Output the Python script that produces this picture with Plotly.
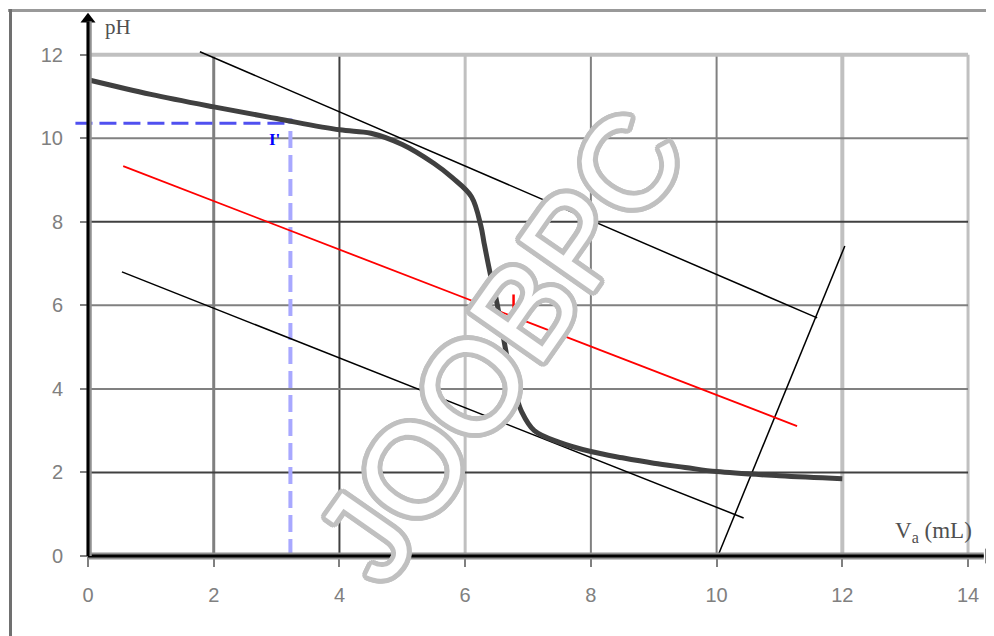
import math
import plotly.graph_objects as go

# ---------------- data ----------------
vol = [0, 1, 2, 3, 4, 4.5, 5, 5.5, 5.8, 6.1, 6.25, 6.3, 6.4, 6.5, 6.6, 6.7, 6.8, 6.9,
       7.1, 7.5, 8, 8.5, 9, 9.5, 10, 11, 12]
ph = [11.4, 11.05, 10.75, 10.47, 10.2, 10.12, 9.85, 9.4, 9.05, 8.6, 7.9, 7.5, 6.75, 6.1,
      5.3, 4.5, 3.9, 3.45, 3.0, 2.72, 2.5, 2.35, 2.22, 2.12, 2.02, 1.92, 1.85]

tan_top_x = [1.78, 11.6]
tan_top_y = [12.07, 5.70]
tan_bot_x = [0.54, 10.43]
tan_bot_y = [6.80, 0.91]
mid_x = [0.56, 11.28]
mid_y = [9.33, 3.11]
steep_x = [10.02, 12.04]
steep_y = [0.0, 7.42]

eq_x = 6.77            # red mark (equivalence point)
eq_y = [5.78, 6.26]

half_v = 3.22          # blue dashed construction
half_ph = 10.36
blue_start_x = -0.2

x_ticks = [0, 2, 4, 6, 8, 10, 12, 14]
y_ticks = [0, 2, 4, 6, 8, 10, 12]
x_labels = ["0", "2", "4", "6", "8", "10", "12", "14"]
y_labels = ["0", "2", "4", "6", "8", "10", "12"]

# ---------------- styles / layout geometry ----------------
# page has an 8px body margin, so the figure is 986x628 and offset by 8px
W, H = 986, 628
PX0, PXU = 80, 62.86     # figure pixel of x=0, pixels per mL
PY0, PYU = 548, 41.78    # figure pixel of pH=0, pixels per pH unit
X_LO, X_HI = -PX0 / PXU, (W - PX0) / PXU
Y_LO, Y_HI = -(H - PY0) / PYU, PY0 / PYU

vgrid_style = [("#808080", 3), ("#404040", 2), ("#c0c0c0", 3), ("#808080", 2),
               ("#808080", 2), ("#c0c0c0", 4), ("#c0c0c0", 3)]
hgrid_style = [("#c0c0c0", 4), ("#808080", 2), ("#404040", 2), ("#808080", 2),
               ("#808080", 2), ("#404040", 2)]

fig = go.Figure()

shapes = []
for gx, (c, w) in zip(x_ticks[1:], vgrid_style):
    shapes.append(dict(type="line", xref="x", yref="y", x0=gx, x1=gx, y0=0, y1=y_ticks[-1],
                       line=dict(color=c, width=w), layer="below"))
for gy, (c, w) in zip(y_ticks[::-1][:-1], hgrid_style):
    shapes.append(dict(type="line", xref="x", yref="y", x0=0, x1=x_ticks[-1], y0=gy, y1=gy,
                       line=dict(color=c, width=w), layer="below"))

# outer frame (top and left)
shapes.append(dict(type="line", xref="paper", yref="paper", x0=0, x1=1, y0=1 - 2.5 / H,
                   y1=1 - 2.5 / H, line=dict(color="#999999", width=3)))
shapes.append(dict(type="line", xref="paper", yref="paper", x0=2.5 / W, x1=2.5 / W, y0=0,
                   y1=1 - 1 / H, line=dict(color="#707070", width=3)))

# axes lines
shapes.append(dict(type="line", xref="x", yref="y", x0=0, x1=14.25, y0=0, y1=0,
                   line=dict(color="#909090", width=7)))
shapes.append(dict(type="line", xref="x", yref="y", x0=0, x1=14.25, y0=0, y1=0,
                   line=dict(color="black", width=3)))
shapes.append(dict(type="line", xref="x", yref="y", x0=0.02, x1=0.02, y0=0, y1=12.8,
                   line=dict(color="#909090", width=5)))
shapes.append(dict(type="line", xref="x", yref="y", x0=0, x1=0, y0=0, y1=12.8,
                   line=dict(color="black", width=3)))
fig.update_layout(shapes=shapes)

# arrow heads
fig.add_trace(go.Scatter(x=[0], y=[12.85], mode="markers",
                         marker=dict(symbol="triangle-up", size=13, color="black"),
                         hoverinfo="skip", showlegend=False))
fig.add_trace(go.Scatter(x=[14.33], y=[0], mode="markers",
                         marker=dict(symbol="triangle-right", size=13, color="black"),
                         hoverinfo="skip", showlegend=False))

# blue dashed construction lines
fig.add_trace(go.Scatter(x=[half_v, half_v], y=[0, half_ph + 0.12], mode="lines",
                         line=dict(color="#a8a8ff", width=4, dash="17px,7px"),
                         hoverinfo="skip", showlegend=False))
fig.add_trace(go.Scatter(x=[blue_start_x, half_v], y=[half_ph, half_ph], mode="lines",
                         line=dict(color="#5050f0", width=3, dash="17px,7px"),
                         hoverinfo="skip", showlegend=False))

# tangents and mid-parallel
fig.add_trace(go.Scatter(x=tan_top_x, y=tan_top_y, mode="lines",
                         line=dict(color="black", width=1.5), showlegend=False))
fig.add_trace(go.Scatter(x=tan_bot_x, y=tan_bot_y, mode="lines",
                         line=dict(color="black", width=1.5), showlegend=False))
fig.add_trace(go.Scatter(x=steep_x, y=steep_y, mode="lines",
                         line=dict(color="black", width=1.5), showlegend=False))
fig.add_trace(go.Scatter(x=mid_x, y=mid_y, mode="lines",
                         line=dict(color="#ff0000", width=1.8), showlegend=False))

# titration curve
fig.add_trace(go.Scatter(x=vol, y=ph, mode="lines", line=dict(color="#404040", width=5),
                         line_shape="spline", showlegend=False))

# red mark
fig.add_trace(go.Scatter(x=[eq_x, eq_x], y=eq_y, mode="lines",
                         line=dict(color="#ff0000", width=2.5), showlegend=False))

gray = "#c0c0c0"
halo = []
for r in (2, 3.5, 5):
    for k in range(16):
        a = 2 * math.pi * k / 16
        halo.append(f"{r * math.cos(a):.1f}px {r * math.sin(a):.1f}px 0 {gray}")
shadow = ", ".join(halo)

annotations = [
    dict(x=0.48, y=12.66, xref="x", yref="y", text="pH", showarrow=False,
         font=dict(family="Liberation Serif", size=21, color="#505050")),
    dict(x=13.45, y=0.57, xref="x", yref="y", text="V<sub>a</sub> (mL)", showarrow=False,
         font=dict(family="Liberation Serif", size=23, color="#505050")),
    dict(x=2.96, y=9.98, xref="x", yref="y", text="<b>I'</b>", showarrow=False,
         font=dict(family="Liberation Serif", size=17, color="#0000ff")),
    dict(x=6.56, y=5.05, xref="x", yref="y", text="JOOBPC", showarrow=False, textangle=-55,
         font=dict(family="Liberation Sans", size=130, color="white", shadow=shadow)),
]

fig.update_layout(
    width=W, height=H,
    margin=dict(l=0, r=0, t=0, b=0, pad=0),
    paper_bgcolor="white", plot_bgcolor="white",
    annotations=annotations,
    xaxis=dict(range=[X_LO, X_HI], showgrid=False, zeroline=False, showline=False,
               tickmode="array", tickvals=x_ticks, ticktext=x_labels,
               ticks="outside", ticklen=10, tickwidth=2, tickcolor="#808080",
               ticklabelstandoff=11,
               tickfont=dict(family="Liberation Sans", size=20, color="#808080"),
               anchor="free", position=(0 - Y_LO) / (Y_HI - Y_LO), fixedrange=True),
    yaxis=dict(range=[Y_LO, Y_HI], showgrid=False, zeroline=False, showline=False,
               tickmode="array", tickvals=y_ticks, ticktext=y_labels,
               ticks="outside", ticklen=8, tickwidth=2, tickcolor="#808080",
               ticklabelstandoff=13,
               tickfont=dict(family="Liberation Sans", size=20, color="#808080"),
               anchor="free", position=(0 - X_LO) / (X_HI - X_LO), fixedrange=True),
)

fig.write_html("out.html", config={"displayModeBar": False})
